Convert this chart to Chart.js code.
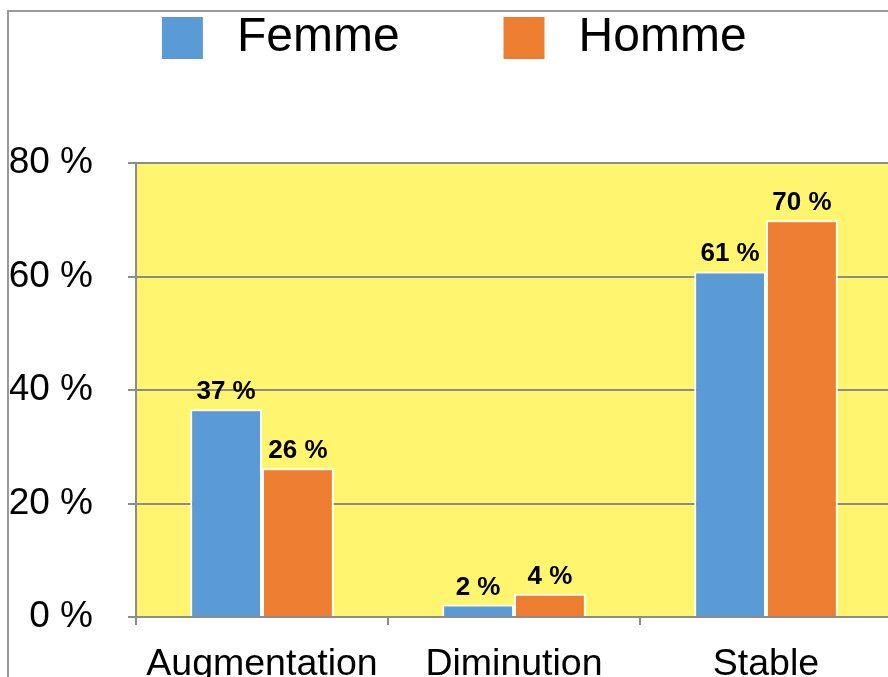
<!DOCTYPE html>
<html>
<head>
<meta charset="utf-8">
<script src="https://cdn.jsdelivr.net/npm/chart.js@4.4.1/dist/chart.umd.min.js"></script>
<style>
  html, body { margin: 0; padding: 0; background: #fff; overflow: hidden; width: 888px; height: 677px; }
  #frame { position: absolute; left: 7px; top: 10px; width: 1000px; height: 1000px;
           border-left: 2px solid #9a9a9a; border-top: 2px solid #9a9a9a; }
  #wrap { position: absolute; left: 0; top: 0; width: 900px; height: 692px; }
</style>
</head>
<body>
<div id="frame"></div>
<div id="wrap"><canvas id="c" width="900" height="692"></canvas></div>
<script>
const categories = ["Augmentation", "Diminution", "Stable"];
const seriesNames = ["Femme", "Homme"];
const femmeValues = [36.6, 2.2, 60.9];
const hommeValues = [26.2, 4.1, 69.9];
const yTickValues = [0, 20, 40, 60, 80];

const FONT = "'Liberation Sans', Arial, sans-serif";
const blue = "#5B9BD5";
const orange = "#ED7D31";
const yellow = "#FFF56E";
const grey = "#8C8C8C";

const plotBg = {
  id: "plotBg",
  beforeDraw(chart) {
    const a = chart.chartArea, ctx = chart.ctx;
    ctx.save();
    ctx.fillStyle = yellow;
    ctx.fillRect(a.left, a.top, a.right - a.left, a.bottom - a.top);
    ctx.restore();
  }
};

const legendGap = {
  id: "legendGap",
  beforeInit(chart) {
    const orig = chart.legend.fit;
    chart.legend.fit = function () {
      orig.bind(chart.legend)();
      this.height += 91;
    };
  },
  afterLayout(chart) {
    chart.legend.left += 3;
    chart.legend.right += 3;
  }
};

const valueLabels = {
  id: "valueLabels",
  afterDatasetsDraw(chart) {
    const ctx = chart.ctx;
    ctx.save();
    ctx.font = "bold 26px " + FONT;
    ctx.fillStyle = "#000";
    ctx.textAlign = "center";
    ctx.textBaseline = "alphabetic";
    chart.data.datasets.forEach((ds, i) => {
      chart.getDatasetMeta(i).data.forEach((el, j) => {
        ctx.fillText(Math.round(ds.data[j]) + " %", el.x, el.y - 10);
      });
    });
    ctx.restore();
  }
};

new Chart(document.getElementById("c"), {
  type: "bar",
  data: {
    labels: categories,
    datasets: [
      { label: seriesNames[0], data: femmeValues, backgroundColor: blue, borderColor: "#fff", borderWidth: 2 },
      { label: seriesNames[1], data: hommeValues, backgroundColor: orange, borderColor: "#fff", borderWidth: 2 }
    ]
  },
  options: {
    responsive: false,
    animation: false,
    layout: { padding: { left: 10, right: 8, top: 4, bottom: 5 } },
    datasets: { bar: { categoryPercentage: 0.57, barPercentage: 1.0 } },
    plugins: {
      tooltip: { enabled: false },
      legend: {
        position: "top",
        labels: {
          font: { family: FONT, size: 48 },
          color: "#000",
          boxWidth: 42,
          boxHeight: 43,
          padding: 10,
          generateLabels(chart) {
            return chart.data.datasets.map((ds, i) => ({
              text: "\u2009" + ds.label + (i === 0 ? "       " : ""),
              fillStyle: ds.backgroundColor,
              strokeStyle: "#fff",
              lineWidth: 1,
              datasetIndex: i,
              hidden: false
            }));
          }
        }
      }
    },
    scales: {
      x: {
        afterFit(s) { s.height = 70; },
        grid: { display: true, drawOnChartArea: false, drawTicks: true, tickLength: 8, color: grey, lineWidth: 2, offset: true },
        border: { display: true, color: grey, width: 2 },
        ticks: { color: "#000", font: { family: FONT, size: 37.5 }, padding: 17, maxRotation: 0 }
      },
      y: {
        min: 0, max: 80,
        afterFit(s) { s.width = 126; },
        afterBuildTicks(s) { s.ticks = yTickValues.map(v => ({ value: v })); },
        grid: { color: grey, lineWidth: 2, tickLength: 8, drawTicks: true },
        border: { display: true, color: grey, width: 2 },
        ticks: { color: "#000", font: { family: FONT, size: 37 }, padding: 35,
                 callback: v => v + " %" }
      }
    }
  },
  plugins: [plotBg, legendGap, valueLabels]
});
</script>
</body>
</html>
